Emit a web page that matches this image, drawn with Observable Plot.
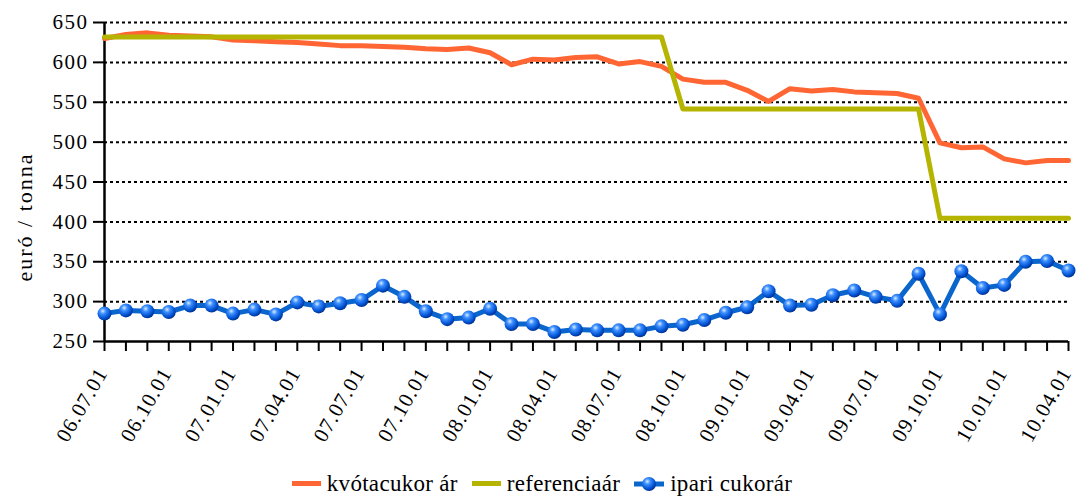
<!DOCTYPE html>
<html>
<head>
<meta charset="utf-8">
<script src="https://cdn.jsdelivr.net/npm/d3@7"></script>
<script src="https://cdn.jsdelivr.net/npm/@observablehq/plot@0.6"></script>
<style>
  body { margin: 0; background: #fff; font-family: "Liberation Serif", serif; }
  #chart svg { display: block; }
  #legend { display: flex; justify-content: center; align-items: center; gap: 14px; height: 27px; font-size: 23px; letter-spacing: 0.3px; color: #000; margin-left: 8px; }
  .item { display: flex; align-items: center; gap: 6px; }
  .sw { width: 29px; height: 5px; }
  .yt text { letter-spacing: 1.5px; }
  .xt text { letter-spacing: 1px; }
  .yl text { letter-spacing: 2px; }
</style>
</head>
<body>
<div id="chart"></div>
<div id="legend"></div>
<script>
const months = ["06.07.01","06.08.01","06.09.01","06.10.01","06.11.01","06.12.01",
  "07.01.01","07.02.01","07.03.01","07.04.01","07.05.01","07.06.01",
  "07.07.01","07.08.01","07.09.01","07.10.01","07.11.01","07.12.01",
  "08.01.01","08.02.01","08.03.01","08.04.01","08.05.01","08.06.01",
  "08.07.01","08.08.01","08.09.01","08.10.01","08.11.01","08.12.01",
  "09.01.01","09.02.01","09.03.01","09.04.01","09.05.01","09.06.01",
  "09.07.01","09.08.01","09.09.01","09.10.01","09.11.01","09.12.01",
  "10.01.01","10.02.01","10.03.01","10.04.01"];

const kvotacukor = [630,635,637,634,633,632,628,627,626,625,623,621,
  621,620,619,617,616,618,612,597,604,603,606,607,
  598,601,595,579,575,575,565,551,567,564,566,563,
  562,561,555,499,493,494,479,474,477,477];

const referencia = [631.9,631.9,631.9,631.9,631.9,631.9,631.9,631.9,631.9,631.9,631.9,631.9,
  631.9,631.9,631.9,631.9,631.9,631.9,631.9,631.9,631.9,631.9,631.9,631.9,
  631.9,631.9,631.9,541.5,541.5,541.5,541.5,541.5,541.5,541.5,541.5,541.5,
  541.5,541.5,541.5,404.4,404.4,404.4,404.4,404.4,404.4,404.4];

const ipari = [285,289,288,287,295,295,285,290,284,299,294,298,
  302,320,306,288,278,280,291,272,272,262,265,264,
  264,264,269,271,277,286,293,313,295,296,308,314,
  306,301,335,284,338,317,321,350,351,339];

const yTicks = [250,300,350,400,450,500,550,600,650];
const xLabels = months.filter((d, i) => i % 3 === 0);
const yTitle = "euró / tonna";
const seriesNames = ["kvótacukor ár", "referenciaár", "ipari cukorár"];
const colors = ["#ff6633", "#b5b400", "#0a66cc"];

const rows = (vals) => months.map((m, i) => ({m, v: vals[i]}));

const defs = () => {
  const d = d3.create("svg:defs");
  const g = d.append("radialGradient").attr("id", "ball").attr("cx", "0.38").attr("cy", "0.32").attr("r", "0.7");
  g.append("stop").attr("offset", "0").attr("stop-color", "#d8ecff");
  g.append("stop").attr("offset", "0.3").attr("stop-color", "#3d8fff");
  g.append("stop").attr("offset", "0.75").attr("stop-color", "#0050d0");
  g.append("stop").attr("offset", "1").attr("stop-color", "#002f8a");
  return d.node();
};

const chart = Plot.plot({
  width: 1076,
  height: 470,
  marginLeft: 104,
  marginRight: 8,
  marginTop: 22,
  marginBottom: 129,
  style: { fontFamily: "'Liberation Serif', serif", fontSize: "21px", color: "#000", background: "#fff" },
  x: { type: "point", domain: months, padding: 0, round: false },
  y: { domain: [250, 650] },
  marks: [
    defs,
    Plot.ruleY(yTicks.filter(d => d > 250), { stroke: "#000", strokeWidth: 2, strokeDasharray: "3,3" }),
    Plot.axisY({ ticks: yTicks, tickSize: 11, tickPadding: 5, tickFormat: d => String(d),
      label: null, strokeWidth: 2, className: "yt" }),
    Plot.text([yTitle], { frameAnchor: "left", dx: -80, dy: 35, rotate: -90, lineAnchor: "middle",
      textAnchor: "middle", fontSize: 22, text: d => d, className: "yl" }),
    Plot.axisX({ ticks: months, tickSize: 10, tickFormat: () => "", label: null, strokeWidth: 2 }),
    Plot.axisX({ ticks: xLabels, tickSize: 0, tickPadding: 28, tickRotate: -60, dx: -2,
      label: null, className: "xt" }),
    Plot.ruleX([months[0]], { stroke: "#000", strokeWidth: 2.5 }),
    Plot.ruleY([250], { stroke: "#000", strokeWidth: 2.5 }),
    Plot.line(rows(kvotacukor), { x: "m", y: "v", stroke: colors[0], strokeWidth: 5 }),
    Plot.line(rows(referencia), { x: "m", y: "v", stroke: colors[1], strokeWidth: 5 }),
    Plot.line(rows(ipari), { x: "m", y: "v", stroke: colors[2], strokeWidth: 5 }),
    Plot.dot(rows(ipari), { x: "m", y: "v", r: 7, fill: "url(#ball)", stroke: "none" })
  ]
});
document.getElementById("chart").append(chart);

const legend = document.getElementById("legend");
seriesNames.forEach((name, i) => {
  const item = document.createElement("div");
  item.className = "item";
  if (i === 2) {
    item.innerHTML = `<svg width="30" height="16"><line x1="0" y1="8" x2="30" y2="8" stroke="${colors[2]}" stroke-width="5"/><circle cx="15" cy="8" r="7" fill="url(#ball)"/></svg><span>${name}</span>`;
  } else {
    item.innerHTML = `<div class="sw" style="background:${colors[i]}"></div><span>${name}</span>`;
  }
  legend.append(item);
});
</script>
</body>
</html>
